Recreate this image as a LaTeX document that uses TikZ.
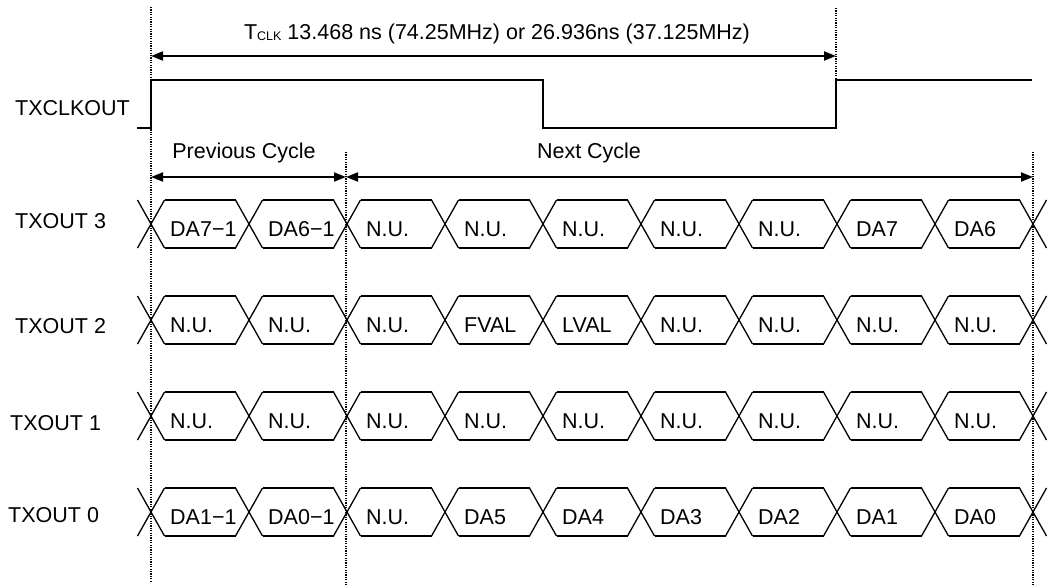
\documentclass[tikz,border=0pt]{standalone}
\usepackage{fontspec}
\setmainfont{Liberation Sans}
\usetikzlibrary{arrows.meta, positioning, calc}
\tikzset{
  sigline/.style={line width=1.3pt, black},
  guideline/.style={line width=1.3pt, black, dash pattern=on 1.2pt off 1.2pt},
  spanarrow/.style={{Triangle[length=12pt,width=9pt]}-{Triangle[length=12pt,width=9pt]}, line width=2pt},
  txt/.style={inner sep=0pt, font=\fontsize{21.5}{25}\selectfont},
  rowlabel/.style={txt, anchor=base west},
  celllabel/.style={txt, anchor=base west}
}

\begin{document}
\begin{tikzpicture}[x=1pt, y=-1pt]
  \useasboundingbox (0,0) rectangle (1048,586);

  % Guides
  \coordinate (g0top) at (151,7);   \coordinate (g0bot) at (151,582);
  \coordinate (g2top) at (346,152); \coordinate (g2bot) at (346,585);
  \coordinate (gPtop) at (836,8);   \coordinate (gPbot) at (836,80);
  \coordinate (g9top) at (1033,152); \coordinate (g9bot) at (1033,585);
  \draw[guideline] (g0top) -- (g0bot);
  \draw[guideline] (g2top) -- (g2bot);
  \draw[guideline] (gPtop) -- (gPbot);
  \draw[guideline] (g9top) -- (g9bot);

  % Clock period
  \coordinate (perL) at (151,56);
  \coordinate (perR) at (836,56);
  \draw[spanarrow] (perL) -- (perR);
  \node[txt, anchor=base] (tclk) at (497,40)
    {T\raisebox{-1pt}{\fontsize{12.5}{13}\selectfont CLK} 13.468 ns (74.25MHz) or 26.936ns (37.125MHz)};

  % Clock
  \node[rowlabel] (clklabel) at (15,115) {TXCLKOUT};
  \draw[sigline] (137,128) -- (151,128) -- (151,80) -- (543,80) -- (543,128)
    -- (836,128) -- (836,80) -- (1032,80);

  % Cycles
  \coordinate (cyA) at (151,177);
  \coordinate (cyB) at (346,177);
  \coordinate (cyC) at (1033,177);
  \draw[spanarrow] (cyA) -- (cyB);
  \draw[spanarrow] (cyB) -- (cyC);
  \node[txt, anchor=base] (prevcyc) at (244,158) {Previous Cycle};
  \node[txt, anchor=base] (nextcyc) at (589,158) {Next Cycle};

  % Data lanes
  \foreach \r/\y/\lx/\ly/\cells in {
    3/224/15/228/{DA7−1,DA6−1,N.U.,N.U.,N.U.,N.U.,N.U.,DA7,DA6},
    2/320/15/333/{N.U.,N.U.,N.U.,FVAL,LVAL,N.U.,N.U.,N.U.,N.U.},
    1/416/10/430/{N.U.,N.U.,N.U.,N.U.,N.U.,N.U.,N.U.,N.U.,N.U.},
    0/512/8/522/{DA1−1,DA0−1,N.U.,DA5,DA4,DA3,DA2,DA1,DA0}} {
    \node[rowlabel] (lane\r) at (\lx,\ly) {TXOUT \r};
    \foreach \k in {0,...,9} {
      \pgfmathsetmacro\xx{151+98*\k}
      \draw[sigline] (\xx-13.5,\y-24) -- (\xx+13.5,\y+24)
                     (\xx-13.5,\y+24) -- (\xx+13.5,\y-24);
    }
    \foreach \c [count=\k from 0] in \cells {
      \pgfmathsetmacro\xx{151+98*\k}
      \draw[sigline] (\xx+13.5,\y-24) -- (\xx+84.5,\y-24)
                     (\xx+13.5,\y+24) -- (\xx+84.5,\y+24);
      \node[celllabel] (d\r c\k) at (\xx+19,\y+12) {\c};
    }
  }
\end{tikzpicture}
\end{document}
